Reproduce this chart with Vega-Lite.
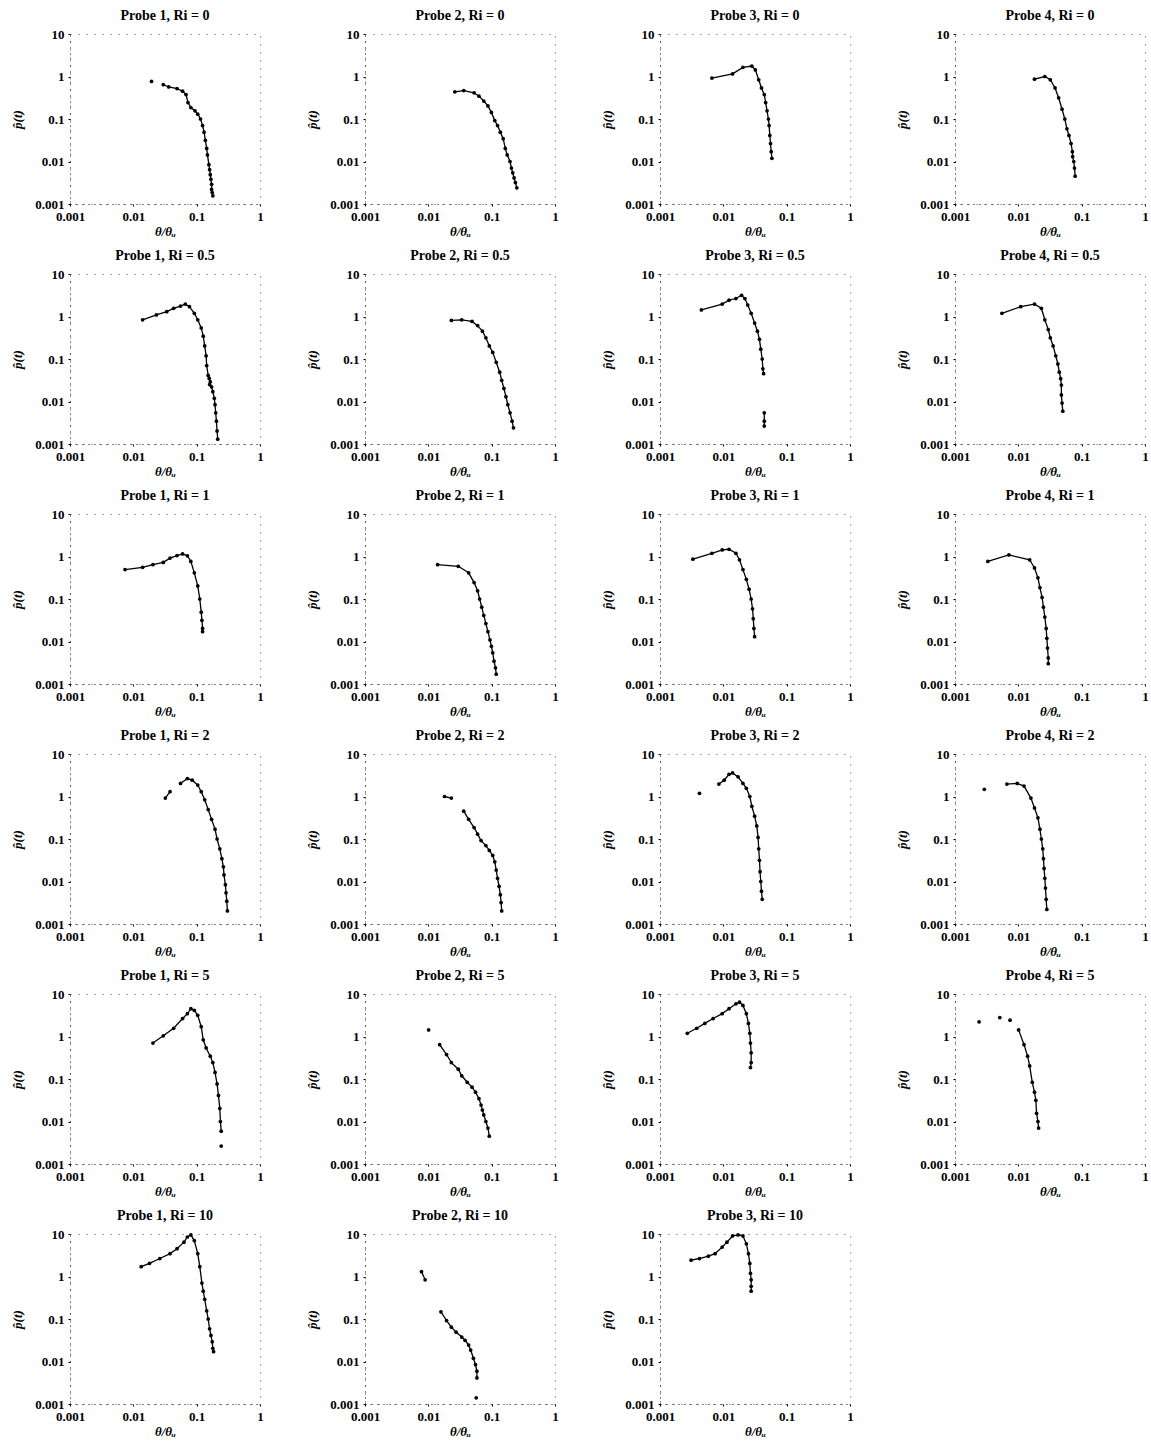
{
"$schema": "https://vega.github.io/schema/vega-lite/v6.json",
"padding": {"left": 11, "top": 8, "right": 0, "bottom": 0},
"background": "white",
"data": {"values": [
{"p":"Probe 1, Ri = 0","x":0.0194,"y":0.767,"s":0},{"p":"Probe 1, Ri = 0","x":0.0297,"y":0.643},{"p":"Probe 1, Ri = 0","x":0.0362,"y":0.567},{"p":"Probe 1, Ri = 0","x":0.049,"y":0.519},{"p":"Probe 1, Ri = 0","x":0.06,"y":0.451},{"p":"Probe 1, Ri = 0","x":0.068,"y":0.377},{"p":"Probe 1, Ri = 0","x":0.073,"y":0.243},{"p":"Probe 1, Ri = 0","x":0.081,"y":0.186},{"p":"Probe 1, Ri = 0","x":0.094,"y":0.156},{"p":"Probe 1, Ri = 0","x":0.104,"y":0.13},{"p":"Probe 1, Ri = 0","x":0.115,"y":0.1},{"p":"Probe 1, Ri = 0","x":0.124,"y":0.07},{"p":"Probe 1, Ri = 0","x":0.131,"y":0.049},{"p":"Probe 1, Ri = 0","x":0.137,"y":0.0316},{"p":"Probe 1, Ri = 0","x":0.144,"y":0.0203},{"p":"Probe 1, Ri = 0","x":0.148,"y":0.0143},{"p":"Probe 1, Ri = 0","x":0.156,"y":0.0084},{"p":"Probe 1, Ri = 0","x":0.16,"y":0.0064},{"p":"Probe 1, Ri = 0","x":0.164,"y":0.0049},{"p":"Probe 1, Ri = 0","x":0.168,"y":0.0038},{"p":"Probe 1, Ri = 0","x":0.172,"y":0.0029},{"p":"Probe 1, Ri = 0","x":0.172,"y":0.0022},{"p":"Probe 1, Ri = 0","x":0.176,"y":0.00186},{"p":"Probe 1, Ri = 0","x":0.18,"y":0.00156},
{"p":"Probe 2, Ri = 0","x":0.0262,"y":0.435},{"p":"Probe 2, Ri = 0","x":0.0362,"y":0.467},{"p":"Probe 2, Ri = 0","x":0.0528,"y":0.413},{"p":"Probe 2, Ri = 0","x":0.063,"y":0.345},{"p":"Probe 2, Ri = 0","x":0.075,"y":0.265},{"p":"Probe 2, Ri = 0","x":0.0873,"y":0.203},{"p":"Probe 2, Ri = 0","x":0.099,"y":0.143},{"p":"Probe 2, Ri = 0","x":0.112,"y":0.0916},{"p":"Probe 2, Ri = 0","x":0.124,"y":0.07},{"p":"Probe 2, Ri = 0","x":0.137,"y":0.049},{"p":"Probe 2, Ri = 0","x":0.152,"y":0.0345},{"p":"Probe 2, Ri = 0","x":0.164,"y":0.0203},{"p":"Probe 2, Ri = 0","x":0.176,"y":0.0143},{"p":"Probe 2, Ri = 0","x":0.195,"y":0.01},{"p":"Probe 2, Ri = 0","x":0.205,"y":0.007},{"p":"Probe 2, Ri = 0","x":0.215,"y":0.0054},{"p":"Probe 2, Ri = 0","x":0.226,"y":0.0041},{"p":"Probe 2, Ri = 0","x":0.237,"y":0.0032},{"p":"Probe 2, Ri = 0","x":0.25,"y":0.0024},
{"p":"Probe 3, Ri = 0","x":0.0066,"y":0.916},{"p":"Probe 3, Ri = 0","x":0.014,"y":1.15},{"p":"Probe 3, Ri = 0","x":0.0204,"y":1.64},{"p":"Probe 3, Ri = 0","x":0.0282,"y":1.76},{"p":"Probe 3, Ri = 0","x":0.032,"y":1.43},{"p":"Probe 3, Ri = 0","x":0.0362,"y":0.837},{"p":"Probe 3, Ri = 0","x":0.04,"y":0.538},{"p":"Probe 3, Ri = 0","x":0.0443,"y":0.377},{"p":"Probe 3, Ri = 0","x":0.0466,"y":0.243},{"p":"Probe 3, Ri = 0","x":0.049,"y":0.156},{"p":"Probe 3, Ri = 0","x":0.0515,"y":0.1},{"p":"Probe 3, Ri = 0","x":0.0528,"y":0.07},{"p":"Probe 3, Ri = 0","x":0.0542,"y":0.041},{"p":"Probe 3, Ri = 0","x":0.0556,"y":0.0265},{"p":"Probe 3, Ri = 0","x":0.057,"y":0.017},{"p":"Probe 3, Ri = 0","x":0.0585,"y":0.0119},
{"p":"Probe 4, Ri = 0","x":0.018,"y":0.867},{"p":"Probe 4, Ri = 0","x":0.0262,"y":1.0},{"p":"Probe 4, Ri = 0","x":0.032,"y":0.837},{"p":"Probe 4, Ri = 0","x":0.038,"y":0.538},{"p":"Probe 4, Ri = 0","x":0.0433,"y":0.316},{"p":"Probe 4, Ri = 0","x":0.049,"y":0.17},{"p":"Probe 4, Ri = 0","x":0.0542,"y":0.1},{"p":"Probe 4, Ri = 0","x":0.0585,"y":0.0588},{"p":"Probe 4, Ri = 0","x":0.063,"y":0.041},{"p":"Probe 4, Ri = 0","x":0.068,"y":0.0265},{"p":"Probe 4, Ri = 0","x":0.0714,"y":0.017},{"p":"Probe 4, Ri = 0","x":0.072,"y":0.013},{"p":"Probe 4, Ri = 0","x":0.075,"y":0.01},{"p":"Probe 4, Ri = 0","x":0.077,"y":0.007},{"p":"Probe 4, Ri = 0","x":0.079,"y":0.0045},
{"p":"Probe 1, Ri = 0.5","x":0.014,"y":0.837},{"p":"Probe 1, Ri = 0.5","x":0.0231,"y":1.09},{"p":"Probe 1, Ri = 0.5","x":0.0337,"y":1.3},{"p":"Probe 1, Ri = 0.5","x":0.0433,"y":1.56},{"p":"Probe 1, Ri = 0.5","x":0.0556,"y":1.76},{"p":"Probe 1, Ri = 0.5","x":0.0663,"y":1.96},{"p":"Probe 1, Ri = 0.5","x":0.077,"y":1.7},{"p":"Probe 1, Ri = 0.5","x":0.0918,"y":1.19},{"p":"Probe 1, Ri = 0.5","x":0.104,"y":0.837},{"p":"Probe 1, Ri = 0.5","x":0.118,"y":0.538},{"p":"Probe 1, Ri = 0.5","x":0.127,"y":0.345},{"p":"Probe 1, Ri = 0.5","x":0.134,"y":0.203},{"p":"Probe 1, Ri = 0.5","x":0.141,"y":0.119},{"p":"Probe 1, Ri = 0.5","x":0.144,"y":0.07},{"p":"Probe 1, Ri = 0.5","x":0.152,"y":0.041},{"p":"Probe 1, Ri = 0.5","x":0.158,"y":0.035},{"p":"Probe 1, Ri = 0.5","x":0.164,"y":0.029},{"p":"Probe 1, Ri = 0.5","x":0.16,"y":0.025},{"p":"Probe 1, Ri = 0.5","x":0.172,"y":0.0222},{"p":"Probe 1, Ri = 0.5","x":0.18,"y":0.017},{"p":"Probe 1, Ri = 0.5","x":0.19,"y":0.0119},{"p":"Probe 1, Ri = 0.5","x":0.195,"y":0.0084},{"p":"Probe 1, Ri = 0.5","x":0.2,"y":0.0054},{"p":"Probe 1, Ri = 0.5","x":0.205,"y":0.00345},{"p":"Probe 1, Ri = 0.5","x":0.21,"y":0.00203},{"p":"Probe 1, Ri = 0.5","x":0.215,"y":0.0013},
{"p":"Probe 2, Ri = 0.5","x":0.0231,"y":0.809},{"p":"Probe 2, Ri = 0.5","x":0.0337,"y":0.837},{"p":"Probe 2, Ri = 0.5","x":0.049,"y":0.767},{"p":"Probe 2, Ri = 0.5","x":0.06,"y":0.61},{"p":"Probe 2, Ri = 0.5","x":0.0714,"y":0.451},{"p":"Probe 2, Ri = 0.5","x":0.081,"y":0.316},{"p":"Probe 2, Ri = 0.5","x":0.0918,"y":0.203},{"p":"Probe 2, Ri = 0.5","x":0.104,"y":0.143},{"p":"Probe 2, Ri = 0.5","x":0.118,"y":0.0837},{"p":"Probe 2, Ri = 0.5","x":0.134,"y":0.049},{"p":"Probe 2, Ri = 0.5","x":0.144,"y":0.0316},{"p":"Probe 2, Ri = 0.5","x":0.156,"y":0.0203},{"p":"Probe 2, Ri = 0.5","x":0.168,"y":0.013},{"p":"Probe 2, Ri = 0.5","x":0.18,"y":0.0084},{"p":"Probe 2, Ri = 0.5","x":0.195,"y":0.0054},{"p":"Probe 2, Ri = 0.5","x":0.21,"y":0.00345},{"p":"Probe 2, Ri = 0.5","x":0.221,"y":0.0024},
{"p":"Probe 3, Ri = 0.5","x":0.0045,"y":1.43},{"p":"Probe 3, Ri = 0.5","x":0.0096,"y":1.96},{"p":"Probe 3, Ri = 0.5","x":0.0123,"y":2.42},{"p":"Probe 3, Ri = 0.5","x":0.0158,"y":2.65},{"p":"Probe 3, Ri = 0.5","x":0.0194,"y":3.16},{"p":"Probe 3, Ri = 0.5","x":0.0219,"y":2.65},{"p":"Probe 3, Ri = 0.5","x":0.0243,"y":1.86},{"p":"Probe 3, Ri = 0.5","x":0.0275,"y":1.19},{"p":"Probe 3, Ri = 0.5","x":0.0312,"y":0.702},{"p":"Probe 3, Ri = 0.5","x":0.0345,"y":0.451},{"p":"Probe 3, Ri = 0.5","x":0.0372,"y":0.29},{"p":"Probe 3, Ri = 0.5","x":0.039,"y":0.17},{"p":"Probe 3, Ri = 0.5","x":0.0411,"y":0.1},{"p":"Probe 3, Ri = 0.5","x":0.0421,"y":0.0588},{"p":"Probe 3, Ri = 0.5","x":0.0433,"y":0.045},{"p":"Probe 3, Ri = 0.5","x":0.0443,"y":0.0054,"s":1},{"p":"Probe 3, Ri = 0.5","x":0.0443,"y":0.00345,"s":1},{"p":"Probe 3, Ri = 0.5","x":0.0443,"y":0.00265,"s":1},
{"p":"Probe 4, Ri = 0.5","x":0.0055,"y":1.19},{"p":"Probe 4, Ri = 0.5","x":0.0109,"y":1.7},{"p":"Probe 4, Ri = 0.5","x":0.018,"y":1.96},{"p":"Probe 4, Ri = 0.5","x":0.0231,"y":1.56},{"p":"Probe 4, Ri = 0.5","x":0.0262,"y":0.837},{"p":"Probe 4, Ri = 0.5","x":0.0297,"y":0.492},{"p":"Probe 4, Ri = 0.5","x":0.032,"y":0.316},{"p":"Probe 4, Ri = 0.5","x":0.0354,"y":0.203},{"p":"Probe 4, Ri = 0.5","x":0.039,"y":0.119},{"p":"Probe 4, Ri = 0.5","x":0.0421,"y":0.0767},{"p":"Probe 4, Ri = 0.5","x":0.0443,"y":0.049},{"p":"Probe 4, Ri = 0.5","x":0.0466,"y":0.0345},{"p":"Probe 4, Ri = 0.5","x":0.0478,"y":0.0243},{"p":"Probe 4, Ri = 0.5","x":0.0478,"y":0.0143},{"p":"Probe 4, Ri = 0.5","x":0.049,"y":0.0092},{"p":"Probe 4, Ri = 0.5","x":0.0503,"y":0.0059},
{"p":"Probe 1, Ri = 1","x":0.0074,"y":0.492},{"p":"Probe 1, Ri = 1","x":0.014,"y":0.557},{"p":"Probe 1, Ri = 1","x":0.0204,"y":0.643},{"p":"Probe 1, Ri = 1","x":0.0297,"y":0.727},{"p":"Probe 1, Ri = 1","x":0.038,"y":0.916},{"p":"Probe 1, Ri = 1","x":0.049,"y":1.05},{"p":"Probe 1, Ri = 1","x":0.06,"y":1.15},{"p":"Probe 1, Ri = 1","x":0.0714,"y":1.04},{"p":"Probe 1, Ri = 1","x":0.081,"y":0.767},{"p":"Probe 1, Ri = 1","x":0.0918,"y":0.413},{"p":"Probe 1, Ri = 1","x":0.104,"y":0.203},{"p":"Probe 1, Ri = 1","x":0.112,"y":0.1},{"p":"Probe 1, Ri = 1","x":0.118,"y":0.049},{"p":"Probe 1, Ri = 1","x":0.121,"y":0.0316},{"p":"Probe 1, Ri = 1","x":0.124,"y":0.0203},{"p":"Probe 1, Ri = 1","x":0.124,"y":0.017},
{"p":"Probe 2, Ri = 1","x":0.014,"y":0.643},{"p":"Probe 2, Ri = 1","x":0.0297,"y":0.588},{"p":"Probe 2, Ri = 1","x":0.0433,"y":0.413},{"p":"Probe 2, Ri = 1","x":0.0528,"y":0.243},{"p":"Probe 2, Ri = 1","x":0.06,"y":0.156},{"p":"Probe 2, Ri = 1","x":0.0646,"y":0.1},{"p":"Probe 2, Ri = 1","x":0.0697,"y":0.0643},{"p":"Probe 2, Ri = 1","x":0.075,"y":0.041},{"p":"Probe 2, Ri = 1","x":0.081,"y":0.0265},{"p":"Probe 2, Ri = 1","x":0.0873,"y":0.017},{"p":"Probe 2, Ri = 1","x":0.094,"y":0.0109},{"p":"Probe 2, Ri = 1","x":0.099,"y":0.0077},{"p":"Probe 2, Ri = 1","x":0.104,"y":0.0054},{"p":"Probe 2, Ri = 1","x":0.109,"y":0.00345},{"p":"Probe 2, Ri = 1","x":0.115,"y":0.0024},{"p":"Probe 2, Ri = 1","x":0.118,"y":0.0017},
{"p":"Probe 3, Ri = 1","x":0.0033,"y":0.867},{"p":"Probe 3, Ri = 1","x":0.0066,"y":1.19},{"p":"Probe 3, Ri = 1","x":0.0096,"y":1.43},{"p":"Probe 3, Ri = 1","x":0.0123,"y":1.48},{"p":"Probe 3, Ri = 1","x":0.0158,"y":1.19},{"p":"Probe 3, Ri = 1","x":0.018,"y":0.837},{"p":"Probe 3, Ri = 1","x":0.0204,"y":0.492},{"p":"Probe 3, Ri = 1","x":0.0231,"y":0.29},{"p":"Probe 3, Ri = 1","x":0.0255,"y":0.17},{"p":"Probe 3, Ri = 1","x":0.0275,"y":0.1},{"p":"Probe 3, Ri = 1","x":0.0289,"y":0.0588},{"p":"Probe 3, Ri = 1","x":0.0297,"y":0.0345},{"p":"Probe 3, Ri = 1","x":0.0304,"y":0.0203},{"p":"Probe 3, Ri = 1","x":0.0312,"y":0.013},
{"p":"Probe 4, Ri = 1","x":0.0033,"y":0.767},{"p":"Probe 4, Ri = 1","x":0.0071,"y":1.09},{"p":"Probe 4, Ri = 1","x":0.0151,"y":0.837},{"p":"Probe 4, Ri = 1","x":0.018,"y":0.538},{"p":"Probe 4, Ri = 1","x":0.0204,"y":0.316},{"p":"Probe 4, Ri = 1","x":0.0219,"y":0.186},{"p":"Probe 4, Ri = 1","x":0.0237,"y":0.109},{"p":"Probe 4, Ri = 1","x":0.0249,"y":0.0643},{"p":"Probe 4, Ri = 1","x":0.0262,"y":0.0377},{"p":"Probe 4, Ri = 1","x":0.0275,"y":0.0203},{"p":"Probe 4, Ri = 1","x":0.0282,"y":0.0119},{"p":"Probe 4, Ri = 1","x":0.0289,"y":0.007},{"p":"Probe 4, Ri = 1","x":0.0297,"y":0.0041},{"p":"Probe 4, Ri = 1","x":0.0297,"y":0.003},
{"p":"Probe 1, Ri = 2","x":0.032,"y":0.916,"s":1},{"p":"Probe 1, Ri = 2","x":0.038,"y":1.3,"s":1},{"p":"Probe 1, Ri = 2","x":0.0556,"y":2.03},{"p":"Probe 1, Ri = 2","x":0.0714,"y":2.65},{"p":"Probe 1, Ri = 2","x":0.085,"y":2.42},{"p":"Probe 1, Ri = 2","x":0.104,"y":1.86},{"p":"Probe 1, Ri = 2","x":0.118,"y":1.3},{"p":"Probe 1, Ri = 2","x":0.134,"y":0.837},{"p":"Probe 1, Ri = 2","x":0.152,"y":0.492},{"p":"Probe 1, Ri = 2","x":0.172,"y":0.29},{"p":"Probe 1, Ri = 2","x":0.195,"y":0.17},{"p":"Probe 1, Ri = 2","x":0.21,"y":0.1},{"p":"Probe 1, Ri = 2","x":0.232,"y":0.0588},{"p":"Probe 1, Ri = 2","x":0.25,"y":0.0345},{"p":"Probe 1, Ri = 2","x":0.264,"y":0.0222},{"p":"Probe 1, Ri = 2","x":0.27,"y":0.0143},{"p":"Probe 1, Ri = 2","x":0.284,"y":0.0084},{"p":"Probe 1, Ri = 2","x":0.291,"y":0.0054},{"p":"Probe 1, Ri = 2","x":0.299,"y":0.00345},{"p":"Probe 1, Ri = 2","x":0.306,"y":0.00203},
{"p":"Probe 2, Ri = 2","x":0.018,"y":1.0,"s":1},{"p":"Probe 2, Ri = 2","x":0.0231,"y":0.916,"s":1},{"p":"Probe 2, Ri = 2","x":0.0362,"y":0.451},{"p":"Probe 2, Ri = 2","x":0.0433,"y":0.29},{"p":"Probe 2, Ri = 2","x":0.0528,"y":0.186},{"p":"Probe 2, Ri = 2","x":0.06,"y":0.13},{"p":"Probe 2, Ri = 2","x":0.068,"y":0.0916},{"p":"Probe 2, Ri = 2","x":0.081,"y":0.07},{"p":"Probe 2, Ri = 2","x":0.0918,"y":0.0538},{"p":"Probe 2, Ri = 2","x":0.104,"y":0.041},{"p":"Probe 2, Ri = 2","x":0.112,"y":0.029},{"p":"Probe 2, Ri = 2","x":0.118,"y":0.0186},{"p":"Probe 2, Ri = 2","x":0.124,"y":0.0119},{"p":"Probe 2, Ri = 2","x":0.131,"y":0.0077},{"p":"Probe 2, Ri = 2","x":0.137,"y":0.0049},{"p":"Probe 2, Ri = 2","x":0.141,"y":0.0032},{"p":"Probe 2, Ri = 2","x":0.144,"y":0.00203},
{"p":"Probe 3, Ri = 2","x":0.0042,"y":1.19,"s":1},{"p":"Probe 3, Ri = 2","x":0.0085,"y":1.96},{"p":"Probe 3, Ri = 2","x":0.0103,"y":2.42},{"p":"Probe 3, Ri = 2","x":0.0123,"y":3.33},{"p":"Probe 3, Ri = 2","x":0.014,"y":3.58},{"p":"Probe 3, Ri = 2","x":0.0171,"y":2.9},{"p":"Probe 3, Ri = 2","x":0.0204,"y":2.03},{"p":"Probe 3, Ri = 2","x":0.0231,"y":1.56},{"p":"Probe 3, Ri = 2","x":0.0262,"y":1.0},{"p":"Probe 3, Ri = 2","x":0.0282,"y":0.588},{"p":"Probe 3, Ri = 2","x":0.0312,"y":0.345},{"p":"Probe 3, Ri = 2","x":0.0337,"y":0.203},{"p":"Probe 3, Ri = 2","x":0.0354,"y":0.109},{"p":"Probe 3, Ri = 2","x":0.0362,"y":0.0588},{"p":"Probe 3, Ri = 2","x":0.0372,"y":0.0316},{"p":"Probe 3, Ri = 2","x":0.038,"y":0.017},{"p":"Probe 3, Ri = 2","x":0.039,"y":0.01},{"p":"Probe 3, Ri = 2","x":0.04,"y":0.0059},{"p":"Probe 3, Ri = 2","x":0.0411,"y":0.0038},
{"p":"Probe 4, Ri = 2","x":0.0029,"y":1.48,"s":1},{"p":"Probe 4, Ri = 2","x":0.0066,"y":1.96},{"p":"Probe 4, Ri = 2","x":0.0096,"y":2.03},{"p":"Probe 4, Ri = 2","x":0.0123,"y":1.76},{"p":"Probe 4, Ri = 2","x":0.0158,"y":0.916},{"p":"Probe 4, Ri = 2","x":0.018,"y":0.538},{"p":"Probe 4, Ri = 2","x":0.0204,"y":0.316},{"p":"Probe 4, Ri = 2","x":0.0219,"y":0.17},{"p":"Probe 4, Ri = 2","x":0.0231,"y":0.1},{"p":"Probe 4, Ri = 2","x":0.0243,"y":0.0588},{"p":"Probe 4, Ri = 2","x":0.0249,"y":0.0345},{"p":"Probe 4, Ri = 2","x":0.0255,"y":0.0203},{"p":"Probe 4, Ri = 2","x":0.0262,"y":0.0119},{"p":"Probe 4, Ri = 2","x":0.0268,"y":0.007},{"p":"Probe 4, Ri = 2","x":0.0275,"y":0.0038},{"p":"Probe 4, Ri = 2","x":0.0282,"y":0.0022},
{"p":"Probe 1, Ri = 5","x":0.0204,"y":0.702},{"p":"Probe 1, Ri = 5","x":0.0297,"y":1.04},{"p":"Probe 1, Ri = 5","x":0.0433,"y":1.56},{"p":"Probe 1, Ri = 5","x":0.06,"y":2.65},{"p":"Probe 1, Ri = 5","x":0.0714,"y":3.45},{"p":"Probe 1, Ri = 5","x":0.081,"y":4.5},{"p":"Probe 1, Ri = 5","x":0.0918,"y":4.12},{"p":"Probe 1, Ri = 5","x":0.104,"y":3.16},{"p":"Probe 1, Ri = 5","x":0.118,"y":1.7},{"p":"Probe 1, Ri = 5","x":0.127,"y":0.837},{"p":"Probe 1, Ri = 5","x":0.141,"y":0.538},{"p":"Probe 1, Ri = 5","x":0.164,"y":0.345},{"p":"Probe 1, Ri = 5","x":0.18,"y":0.243},{"p":"Probe 1, Ri = 5","x":0.195,"y":0.143},{"p":"Probe 1, Ri = 5","x":0.21,"y":0.0767},{"p":"Probe 1, Ri = 5","x":0.221,"y":0.041},{"p":"Probe 1, Ri = 5","x":0.232,"y":0.0203},{"p":"Probe 1, Ri = 5","x":0.237,"y":0.01},{"p":"Probe 1, Ri = 5","x":0.244,"y":0.0059},{"p":"Probe 1, Ri = 5","x":0.244,"y":0.00265,"s":1},
{"p":"Probe 2, Ri = 5","x":0.0101,"y":1.43,"s":1},{"p":"Probe 2, Ri = 5","x":0.0151,"y":0.643},{"p":"Probe 2, Ri = 5","x":0.0194,"y":0.377},{"p":"Probe 2, Ri = 5","x":0.0231,"y":0.243},{"p":"Probe 2, Ri = 5","x":0.0297,"y":0.17},{"p":"Probe 2, Ri = 5","x":0.0337,"y":0.119},{"p":"Probe 2, Ri = 5","x":0.0411,"y":0.0837},{"p":"Probe 2, Ri = 5","x":0.049,"y":0.0643},{"p":"Probe 2, Ri = 5","x":0.0556,"y":0.049},{"p":"Probe 2, Ri = 5","x":0.063,"y":0.0345},{"p":"Probe 2, Ri = 5","x":0.068,"y":0.0243},{"p":"Probe 2, Ri = 5","x":0.0714,"y":0.0186},{"p":"Probe 2, Ri = 5","x":0.075,"y":0.0143},{"p":"Probe 2, Ri = 5","x":0.081,"y":0.01},{"p":"Probe 2, Ri = 5","x":0.0873,"y":0.007},{"p":"Probe 2, Ri = 5","x":0.0918,"y":0.0045},
{"p":"Probe 3, Ri = 5","x":0.0027,"y":1.19},{"p":"Probe 3, Ri = 5","x":0.0038,"y":1.56},{"p":"Probe 3, Ri = 5","x":0.0051,"y":2.03},{"p":"Probe 3, Ri = 5","x":0.0069,"y":2.65},{"p":"Probe 3, Ri = 5","x":0.0096,"y":3.45},{"p":"Probe 3, Ri = 5","x":0.0123,"y":4.5},{"p":"Probe 3, Ri = 5","x":0.0158,"y":5.87},{"p":"Probe 3, Ri = 5","x":0.018,"y":6.42},{"p":"Probe 3, Ri = 5","x":0.0204,"y":5.38},{"p":"Probe 3, Ri = 5","x":0.0231,"y":3.45},{"p":"Probe 3, Ri = 5","x":0.0249,"y":2.03},{"p":"Probe 3, Ri = 5","x":0.0262,"y":1.19},{"p":"Probe 3, Ri = 5","x":0.0268,"y":0.702},{"p":"Probe 3, Ri = 5","x":0.0275,"y":0.413},{"p":"Probe 3, Ri = 5","x":0.0275,"y":0.243},{"p":"Probe 3, Ri = 5","x":0.0268,"y":0.186},
{"p":"Probe 4, Ri = 5","x":0.0024,"y":2.22,"s":1},{"p":"Probe 4, Ri = 5","x":0.0051,"y":2.79,"s":2},{"p":"Probe 4, Ri = 5","x":0.0074,"y":2.42,"s":3},{"p":"Probe 4, Ri = 5","x":0.0101,"y":1.43},{"p":"Probe 4, Ri = 5","x":0.0123,"y":0.643},{"p":"Probe 4, Ri = 5","x":0.014,"y":0.345},{"p":"Probe 4, Ri = 5","x":0.0151,"y":0.203},{"p":"Probe 4, Ri = 5","x":0.0166,"y":0.0837},{"p":"Probe 4, Ri = 5","x":0.018,"y":0.049},{"p":"Probe 4, Ri = 5","x":0.0189,"y":0.0316},{"p":"Probe 4, Ri = 5","x":0.0194,"y":0.0156},{"p":"Probe 4, Ri = 5","x":0.0204,"y":0.01},{"p":"Probe 4, Ri = 5","x":0.0209,"y":0.007},
{"p":"Probe 1, Ri = 10","x":0.0133,"y":1.7},{"p":"Probe 1, Ri = 10","x":0.018,"y":2.03},{"p":"Probe 1, Ri = 10","x":0.0262,"y":2.65},{"p":"Probe 1, Ri = 10","x":0.038,"y":3.45},{"p":"Probe 1, Ri = 10","x":0.049,"y":4.5},{"p":"Probe 1, Ri = 10","x":0.063,"y":6.42},{"p":"Probe 1, Ri = 10","x":0.0714,"y":8.5},{"p":"Probe 1, Ri = 10","x":0.081,"y":9.5},{"p":"Probe 1, Ri = 10","x":0.0918,"y":7.0},{"p":"Probe 1, Ri = 10","x":0.104,"y":3.45},{"p":"Probe 1, Ri = 10","x":0.112,"y":1.7},{"p":"Probe 1, Ri = 10","x":0.121,"y":0.702},{"p":"Probe 1, Ri = 10","x":0.127,"y":0.451},{"p":"Probe 1, Ri = 10","x":0.134,"y":0.29},{"p":"Probe 1, Ri = 10","x":0.144,"y":0.156},{"p":"Probe 1, Ri = 10","x":0.152,"y":0.1},{"p":"Probe 1, Ri = 10","x":0.16,"y":0.0588},{"p":"Probe 1, Ri = 10","x":0.168,"y":0.041},{"p":"Probe 1, Ri = 10","x":0.176,"y":0.029},{"p":"Probe 1, Ri = 10","x":0.18,"y":0.0203},{"p":"Probe 1, Ri = 10","x":0.185,"y":0.017},
{"p":"Probe 2, Ri = 10","x":0.0078,"y":1.3,"s":1},{"p":"Probe 2, Ri = 10","x":0.0089,"y":0.837,"s":1},{"p":"Probe 2, Ri = 10","x":0.0158,"y":0.148},{"p":"Probe 2, Ri = 10","x":0.0194,"y":0.0916},{"p":"Probe 2, Ri = 10","x":0.0231,"y":0.0643},{"p":"Probe 2, Ri = 10","x":0.0275,"y":0.049},{"p":"Probe 2, Ri = 10","x":0.0337,"y":0.0377},{"p":"Probe 2, Ri = 10","x":0.038,"y":0.0316},{"p":"Probe 2, Ri = 10","x":0.0433,"y":0.0243},{"p":"Probe 2, Ri = 10","x":0.0466,"y":0.0186},{"p":"Probe 2, Ri = 10","x":0.0515,"y":0.0119},{"p":"Probe 2, Ri = 10","x":0.0556,"y":0.0084},{"p":"Probe 2, Ri = 10","x":0.0585,"y":0.0059},{"p":"Probe 2, Ri = 10","x":0.0585,"y":0.0041},{"p":"Probe 2, Ri = 10","x":0.057,"y":0.0014,"s":2},
{"p":"Probe 3, Ri = 10","x":0.0031,"y":2.42},{"p":"Probe 3, Ri = 10","x":0.0042,"y":2.65},{"p":"Probe 3, Ri = 10","x":0.0058,"y":3.0},{"p":"Probe 3, Ri = 10","x":0.0074,"y":3.45},{"p":"Probe 3, Ri = 10","x":0.0096,"y":4.92},{"p":"Probe 3, Ri = 10","x":0.0114,"y":6.42},{"p":"Probe 3, Ri = 10","x":0.014,"y":9.0},{"p":"Probe 3, Ri = 10","x":0.0171,"y":9.5},{"p":"Probe 3, Ri = 10","x":0.0204,"y":9.0},{"p":"Probe 3, Ri = 10","x":0.0231,"y":5.87},{"p":"Probe 3, Ri = 10","x":0.0249,"y":3.45},{"p":"Probe 3, Ri = 10","x":0.0262,"y":2.03},{"p":"Probe 3, Ri = 10","x":0.0268,"y":1.19},{"p":"Probe 3, Ri = 10","x":0.0275,"y":0.837},{"p":"Probe 3, Ri = 10","x":0.0275,"y":0.588},{"p":"Probe 3, Ri = 10","x":0.0275,"y":0.451}
]},
"facet": {"field": "p", "type": "nominal", "title": null,
  "sort": ["Probe 1, Ri = 0","Probe 2, Ri = 0","Probe 3, Ri = 0","Probe 4, Ri = 0","Probe 1, Ri = 0.5","Probe 2, Ri = 0.5","Probe 3, Ri = 0.5","Probe 4, Ri = 0.5","Probe 1, Ri = 1","Probe 2, Ri = 1","Probe 3, Ri = 1","Probe 4, Ri = 1","Probe 1, Ri = 2","Probe 2, Ri = 2","Probe 3, Ri = 2","Probe 4, Ri = 2","Probe 1, Ri = 5","Probe 2, Ri = 5","Probe 3, Ri = 5","Probe 4, Ri = 5","Probe 1, Ri = 10","Probe 2, Ri = 10","Probe 3, Ri = 10"],
  "header": {"labelFont": "Liberation Serif", "labelFontSize": 14, "labelFontWeight": "bold", "labelColor": "#000", "labelPadding": 5}},
"columns": 4,
"spacing": {"row": 9, "column": 42},
"resolve": {"axis": {"x": "independent", "y": "independent"}},
"spec": {
  "width": 190, "height": 170,
  "encoding": {
    "x": {"field": "x", "type": "quantitative", "scale": {"type": "log", "domain": [0.001, 1]},
      "axis": {"values": [0.001, 0.01, 0.1, 1], "format": "~g", "title": "θ/θᵤ", "titleFontStyle": "italic", "titlePadding": 2}},
    "y": {"field": "y", "type": "quantitative", "scale": {"type": "log", "domain": [0.001, 10]},
      "axis": {"values": [0.001, 0.01, 0.1, 1, 10], "format": "~g", "title": "p̂(t)", "titleFontStyle": "italic", "titlePadding": 10}}
  },
  "layer": [
    {"mark": {"type": "line", "color": "#000", "strokeWidth": 1.3}, "encoding": {"detail": {"field": "s"}, "order": {"value": null}}},
    {"mark": {"type": "circle", "color": "#000", "size": 14, "opacity": 1}}
  ]
},
"config": {
  "font": "Liberation Serif",
  "view": {"stroke": "#000", "strokeDash": [1, 7], "strokeWidth": 1, "strokeOpacity": 0.7},
  "axis": {"labelFont": "Liberation Serif", "labelFontSize": 13, "labelFontWeight": "bold", "labelColor": "#000",
    "titleFont": "Liberation Serif", "titleFontSize": 13, "titleFontWeight": "bold", "titleColor": "#000",
    "grid": false, "domainColor": "#000", "domainDash": [1, 5], "tickColor": "#000", "tickSize": 2, "labelFlush": false, "labelPadding": 4}
}
}
